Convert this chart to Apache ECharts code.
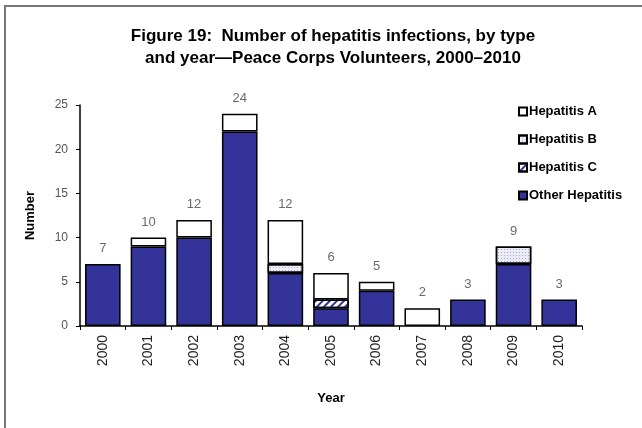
<!DOCTYPE html>
<html>
<head>
<meta charset="utf-8">
<script src="https://cdn.jsdelivr.net/npm/echarts@6/dist/echarts.min.js"></script>
<style>
  html, body { margin: 0; padding: 0; background: #fff; }
  #chart { width: 642px; height: 428px; }
</style>
</head>
<body>
<div id="chart"></div>
<script>
  // values
  const years = ['2000','2001','2002','2003','2004','2005','2006','2007','2008','2009','2010'];
  const hepA  = [0, 1, 2, 2, 5, 3, 1, 2, 0, 0, 0];
  const hepB  = [0, 0, 0, 0, 1, 0, 0, 0, 0, 2, 0];
  const hepC  = [0, 0, 0, 0, 0, 1, 0, 0, 0, 0, 0];
  const other = [7, 9, 10, 22, 6, 2, 4, 0, 3, 7, 3];
  const yTicks = [0, 5, 10, 15, 20, 25];

  const totals = years.map((y, i) => hepA[i] + hepB[i] + hepC[i] + other[i]);
  const font = 'Arial, "Liberation Sans", sans-serif';
  const navy = '#333399';

  const chart = echarts.init(document.getElementById('chart'));

  function barSeries(name, data, color, decal) {
    let s = {
      name: name,
      type: 'bar',
      stack: 'all',
      // empty segments are left out so they don't draw a border line
      data: data.map(v => v === 0 ? '-' : v),
      barCategoryGap: '22%',
      itemStyle: { color: color, borderColor: '#000', borderWidth: 1.5 }
    };
    if (decal) s.itemStyle.decal = decal;
    return s;
  }

  let option = {
    animation: false,
    textStyle: { fontFamily: font },
    title: {
      text: 'Figure 19:  Number of hepatitis infections, by type\nand year\u2014Peace Corps Volunteers, 2000\u20132010',
      left: 328,
      top: 20,
      textAlign: 'center',
      textStyle: { fontSize: 17, fontWeight: 'bold', color: '#000', lineHeight: 22, fontFamily: font }
    },
    graphic: [{
      type: 'rect',
      z: -1,
      shape: { x: 5, y: 6, width: 700, height: 500 },
      style: { fill: 'none', stroke: '#777', lineWidth: 2 }
    }],
    legend: {
      data: ['Hepatitis A', 'Hepatitis B', 'Hepatitis C', 'Other Hepatitis'],
      orient: 'vertical',
      left: 513,
      top: 100,
      itemWidth: 8,
      itemHeight: 8,
      itemGap: 15,
      icon: 'rect',
      textStyle: { fontSize: 13, fontWeight: 'bold', color: '#000', fontFamily: font, padding: [0, 0, 0, -3] }
    },
    grid: { left: 80, right: 60, top: 105, bottom: 102 },
    xAxis: {
      type: 'category',
      data: years,
      name: 'Year',
      nameLocation: 'middle',
      nameGap: 66,
      nameTextStyle: { fontSize: 13, fontWeight: 'bold', color: '#000', fontFamily: font },
      axisLine: { lineStyle: { color: '#000', width: 1.5 } },
      axisTick: { show: true, length: 4, lineStyle: { color: '#000' } },
      axisLabel: { rotate: 90, fontSize: 14, color: '#222', margin: 9, fontFamily: font }
    },
    yAxis: {
      type: 'value',
      min: 0,
      max: 25,
      interval: 5,
      name: 'Number',
      nameLocation: 'middle',
      nameGap: 43,
      nameTextStyle: { fontSize: 13, fontWeight: 'bold', color: '#000', fontFamily: font },
      splitLine: { show: false },
      axisLine: { show: true, lineStyle: { color: '#000', width: 1.5 } },
      axisTick: { show: true, length: 4, lineStyle: { color: '#000' } },
      axisLabel: {
        fontSize: 12, color: '#555', margin: 12, fontFamily: font,
        customValues: yTicks
      }
    },
    series: [
      barSeries('Other Hepatitis', other, navy),
      barSeries('Hepatitis C', hepC, '#fff', {
        symbol: 'rect', symbolSize: 1, color: navy,
        dashArrayX: [1, 0], dashArrayY: [2, 3], rotation: -Math.PI / 4
      }),
      barSeries('Hepatitis B', hepB, '#ececf6', {
        symbol: 'rect', symbolSize: 1, color: '#a8a8cc',
        dashArrayX: [1, 2], dashArrayY: [1, 2]
      }),
      barSeries('Hepatitis A', hepA, '#fff'),
      {
        name: 'total',
        type: 'scatter',
        data: totals,
        symbolSize: 0,
        silent: true,
        label: { show: true, position: 'top', distance: 9, fontSize: 13, color: '#444', fontFamily: font }
      }
    ]
  };

  chart.setOption(option);
</script>
</body>
</html>
